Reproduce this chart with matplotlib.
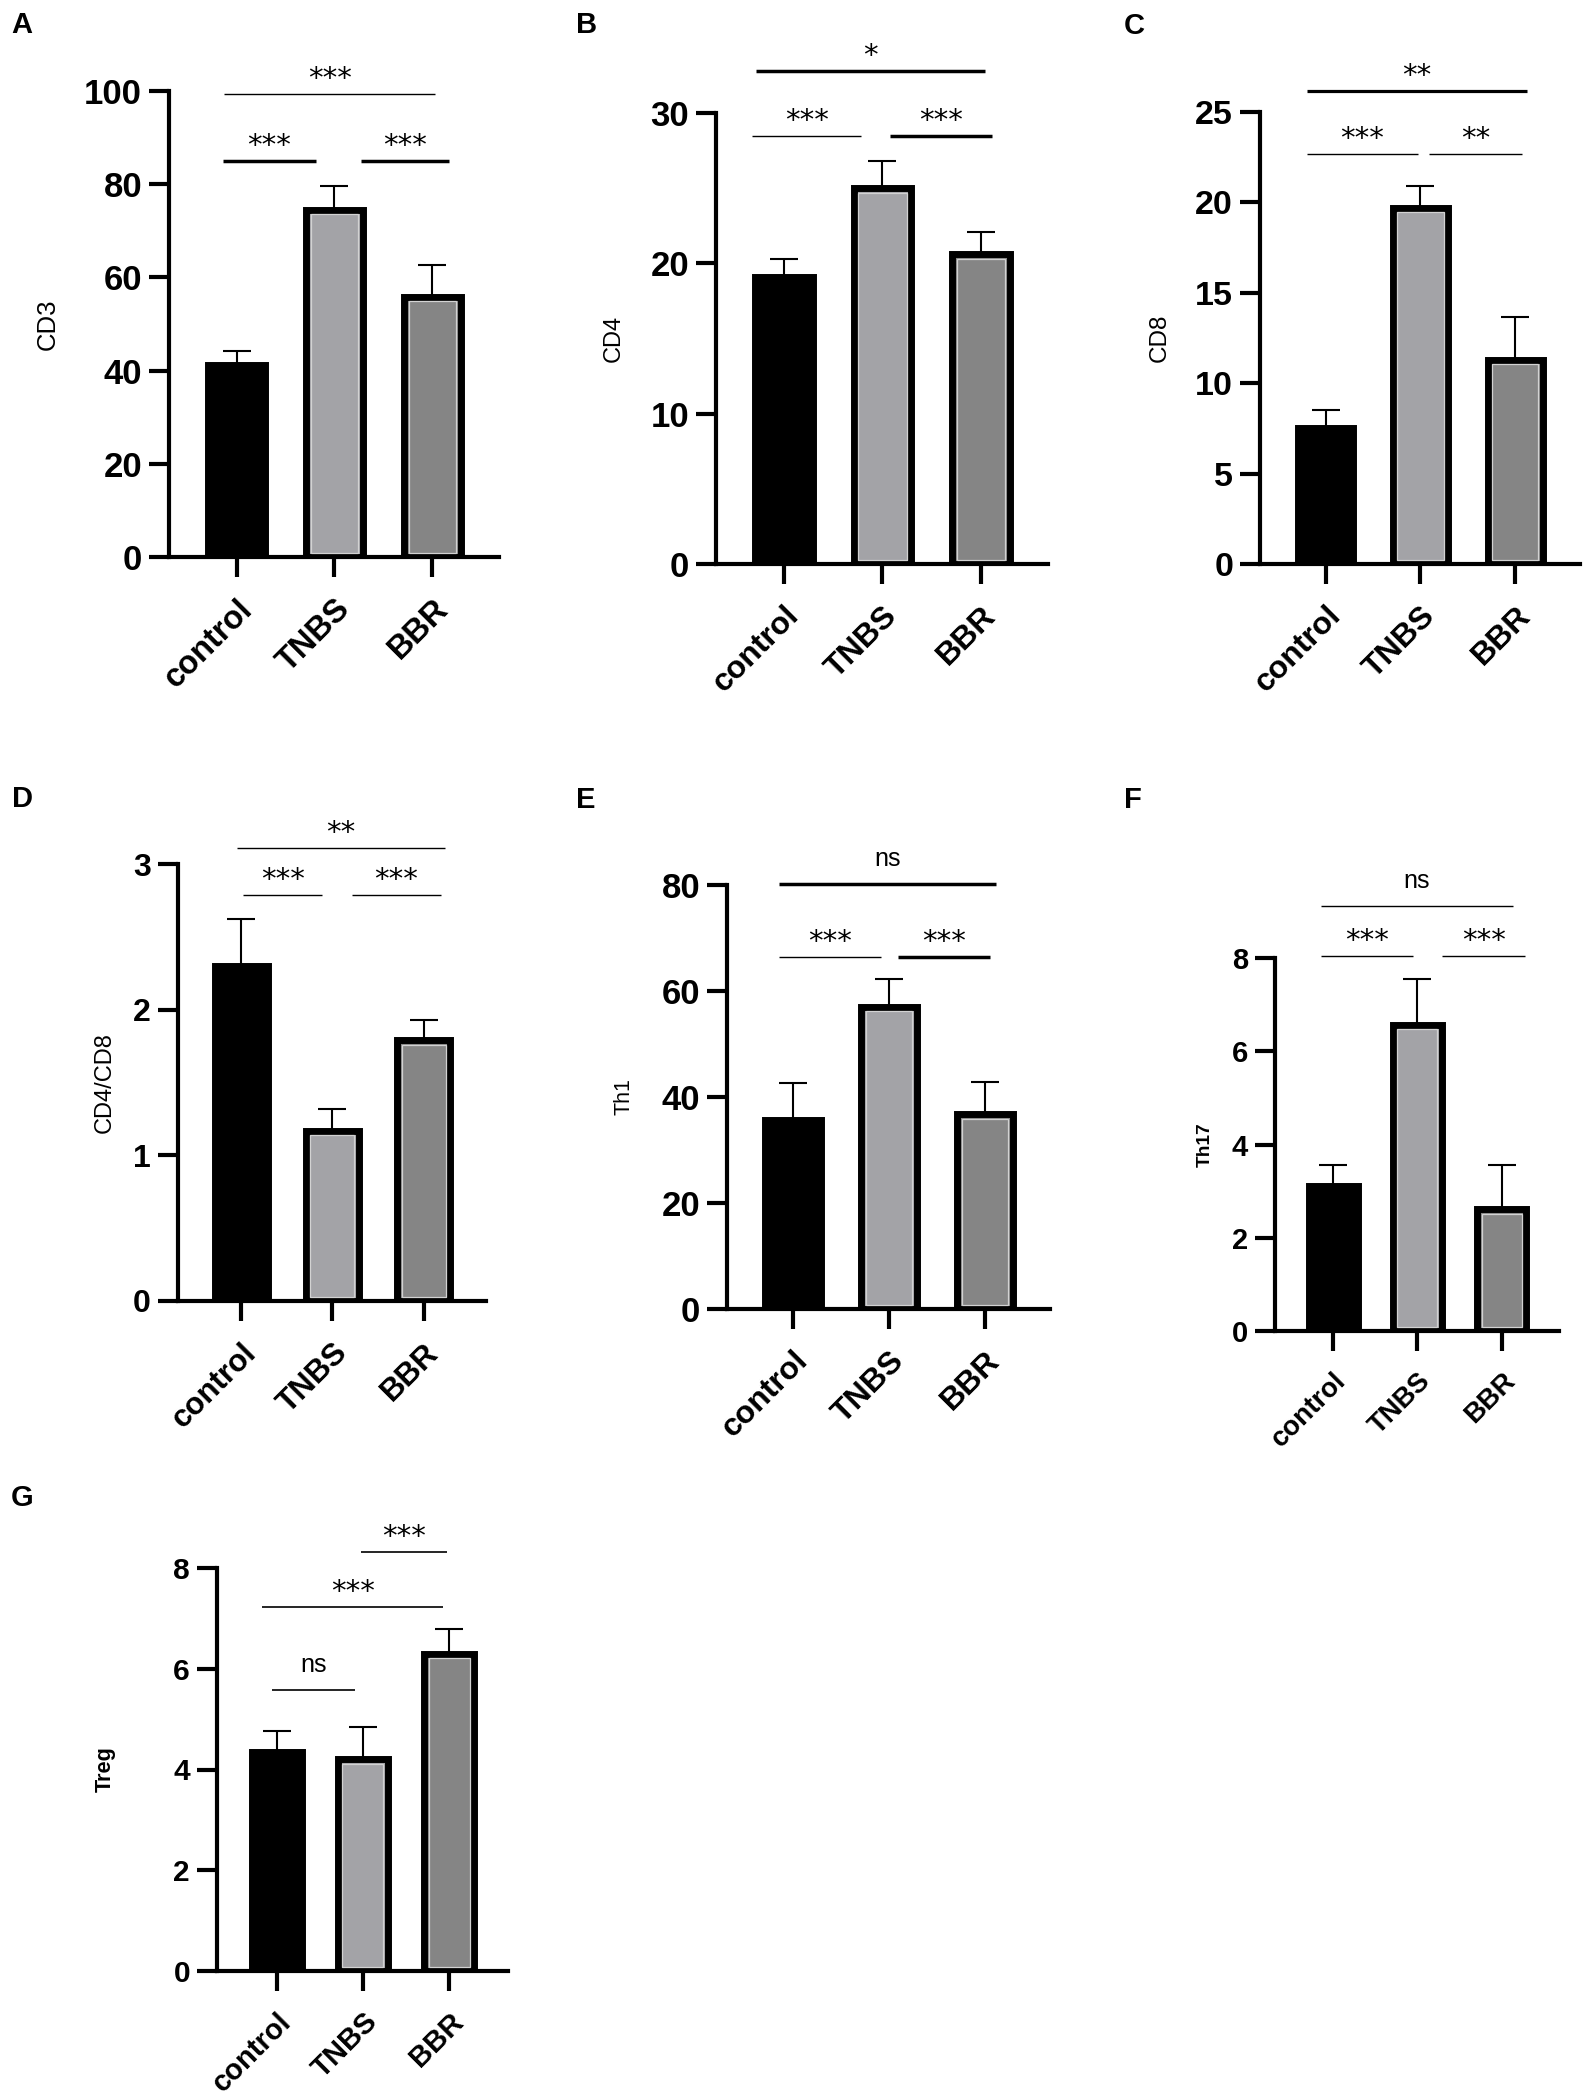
import numpy as np
import matplotlib
matplotlib.use('Agg')
import matplotlib.pyplot as plt

groups = ['control', 'TNBS', 'BBR']

cd3 = [41.2, 74.5, 55.9]
cd3_sd = [3.0, 5.1, 6.7]
cd4 = [19.1, 25.0, 20.6]
cd4_sd = [1.2, 1.8, 1.5]
cd8 = [7.5, 19.7, 11.3]
cd8_sd = [1.0, 1.2, 2.35]
ratio = [2.30, 1.17, 1.79]
ratio_sd = [0.32, 0.15, 0.14]
th1 = [35.7, 57.0, 36.7]
th1_sd = [6.9, 5.3, 6.1]
th17 = [3.12, 6.57, 2.61]
th17_sd = [0.43, 0.97, 0.94]
treg = [4.35, 4.20, 6.30]
treg_sd = [0.41, 0.64, 0.48]

# significance labels, in the same order as the brackets below
cd3_sig = ['***', '***', '***']
cd4_sig = ['*', '***', '***']
cd8_sig = ['**', '***', '**']
ratio_sig = ['**', '***', '***']
th1_sig = ['ns', '***', '***']
th17_sig = ['ns', '***', '***']
treg_sig = ['***', '***', 'ns']

fills = ['#000000', '#a3a3a7', '#858585']

W, H = 1595, 2094
XLIM = (-0.69, 2.68)

# layout of each panel: box in pixels (left, right, top, bottom)
panels = [
    dict(letter='A', name='CD3', mean=cd3, sd=cd3_sd, sig=cd3_sig,
         box=(169, 499, 91, 557), ymax=100, step=20, letter_xy=(21.5, 25),
         ylab_x=48, ylab_fs=18.5, ylab_w='normal', ytick_fs=25, xtick_fs=23.5,
         brackets=[(-0.13, 2.03, 99.4, 1.0), (-0.14, 0.81, 85, 2.5), (1.27, 2.17, 85, 2.5)]),
    dict(letter='B', name='CD4', mean=cd4, sd=cd4_sd, sig=cd4_sig,
         box=(716, 1048, 113, 564), ymax=30, step=10, letter_xy=(586.5, 25),
         ylab_x=614, ylab_fs=17, ylab_w='normal', ytick_fs=25, xtick_fs=23,
         brackets=[(-0.28, 2.04, 32.8, 2.5), (-0.32, 0.78, 28.5, 1.0), (1.08, 2.11, 28.5, 2.5)]),
    dict(letter='C', name='CD8', mean=cd8, sd=cd8_sd, sig=cd8_sig,
         box=(1260, 1580, 112, 564), ymax=25, step=5, letter_xy=(1134.5, 26),
         ylab_x=1160, ylab_fs=17.5, ylab_w='normal', ytick_fs=24.5, xtick_fs=23,
         brackets=[(-0.2, 2.12, 26.17, 2.3), (-0.2, 0.97, 22.7, 1.0), (1.09, 2.07, 22.7, 1.0)]),
    dict(letter='D', name='CD4/CD8', mean=ratio, sd=ratio_sd, sig=ratio_sig,
         box=(178, 486, 864, 1301), ymax=3, step=1, letter_xy=(22, 799),
         ylab_x=105, ylab_fs=17, ylab_w='normal', ytick_fs=23, xtick_fs=22.5,
         brackets=[(-0.04, 2.23, 3.11, 1.0), (0.02, 0.89, 2.79, 1.0), (1.21, 2.19, 2.79, 1.0)]),
    dict(letter='E', name='Th1', mean=th1, sd=th1_sd, sig=th1_sig,
         box=(727, 1050, 885, 1309), ymax=80, step=20, letter_xy=(585.5, 800),
         ylab_x=624, ylab_fs=15.5, ylab_w='normal', ytick_fs=25, xtick_fs=23,
         brackets=[(-0.15, 2.12, 80.2, 2.5), (-0.15, 0.92, 66.5, 1.0), (1.09, 2.05, 66.5, 2.5)]),
    dict(letter='F', name='Th17', mean=th17, sd=th17_sd, sig=th17_sig,
         box=(1275, 1559, 958, 1331), ymax=8, step=2, letter_xy=(1132.5, 800),
         ylab_x=1205, ylab_fs=13.8, ylab_w='bold', ytick_fs=21, xtick_fs=19.8,
         brackets=[(-0.15, 2.13, 9.11, 1.0), (-0.15, 0.95, 8.05, 1.0), (1.29, 2.28, 8.05, 1.0)]),
    dict(letter='G', name='Treg', mean=treg, sd=treg_sd, sig=treg_sig,
         box=(217, 508, 1568, 1971), ymax=8, step=2, letter_xy=(22.5, 1498.5),
         ylab_x=105, ylab_fs=15.7, ylab_w='bold', ytick_fs=21.5, xtick_fs=21,
         brackets=[(0.98, 1.97, 8.31, 1.2), (-0.17, 1.93, 7.22, 1.2), (-0.05, 0.91, 5.57, 1.2)]),
]

fig = plt.figure(figsize=(W / 100, H / 100), dpi=100)
fig.patch.set_facecolor('white')

x = np.arange(len(groups))
bw = 0.58

for p in panels:
    l, r, t, b = p['box']
    ax = fig.add_axes([l / W, 1 - b / H, (r - l) / W, (b - t) / H])
    mean = np.array(p['mean'])
    sd = np.array(p['sd'])

    ax.errorbar(x, mean, yerr=[np.zeros_like(sd), sd], fmt='none', ecolor='black',
                elinewidth=1.5, capsize=10, capthick=1.5, zorder=0.5)
    ax.bar(x, mean, width=bw, color=fills, edgecolor='black', linewidth=5, zorder=1)

    # thin light line inside the black border of the gray bars
    ppx = (r - l) / (XLIM[1] - XLIM[0])
    ppy = (b - t) / p['ymax']
    dx, dy = 4.5 / ppx, 4.5 / ppy
    ax.bar(x[1:], mean[1:] - 2 * dy, width=bw - 2 * dx, bottom=dy, facecolor='none',
           edgecolor='#d2d2d2', linewidth=0.9, zorder=1.2)

    ax.set_xlim(*XLIM)
    ax.set_ylim(0, p['ymax'])
    ax.set_yticks(np.arange(0, p['ymax'] + p['step'] / 2, p['step']))
    ax.set_xticks(x)
    ax.set_xticklabels(groups, rotation=45, ha='right', va='top', rotation_mode='anchor',
                       fontsize=p['xtick_fs'], fontweight='bold', family='Liberation Sans')
    for lab in ax.get_yticklabels():
        lab.set_fontsize(p['ytick_fs'])
        lab.set_fontweight('bold')
        lab.set_family('Liberation Sans')
    ax.tick_params(axis='y', length=14.4, width=3, pad=5)
    ax.tick_params(axis='x', length=14.4, width=3, pad=12)
    for s in ['top', 'right']:
        ax.spines[s].set_visible(False)
    for s in ['left', 'bottom']:
        ax.spines[s].set_linewidth(3)
    ax.set_facecolor('none')

    ax.set_ylabel(p['name'], fontsize=p['ylab_fs'], fontweight=p['ylab_w'],
                  family='Liberation Sans', va='center')
    ax.yaxis.set_label_coords((p['ylab_x'] - l) / (r - l), 0.5)

    for (x0, x1, yb, lw), lab in zip(p['brackets'], p['sig']):
        ax.plot([x0, x1], [yb, yb], color='black', lw=lw, clip_on=False, solid_capstyle='butt')
        if lab == 'ns':
            ax.annotate(lab, ((x0 + x1) / 2, yb), xytext=(0, 13), textcoords='offset points',
                        ha='center', va='baseline', fontsize=18, family='Liberation Sans',
                        annotation_clip=False)
        else:
            ax.annotate(lab, ((x0 + x1) / 2, yb), xytext=(0, 5), textcoords='offset points',
                        ha='center', va='baseline', fontsize=21, family='DejaVu Sans',
                        annotation_clip=False)

    fig.text(p['letter_xy'][0] / W, 1 - p['letter_xy'][1] / H, p['letter'],
             ha='center', va='center', fontsize=21, fontweight='bold', family='Liberation Sans')

fig.savefig('out.png', dpi=100, facecolor='white')
